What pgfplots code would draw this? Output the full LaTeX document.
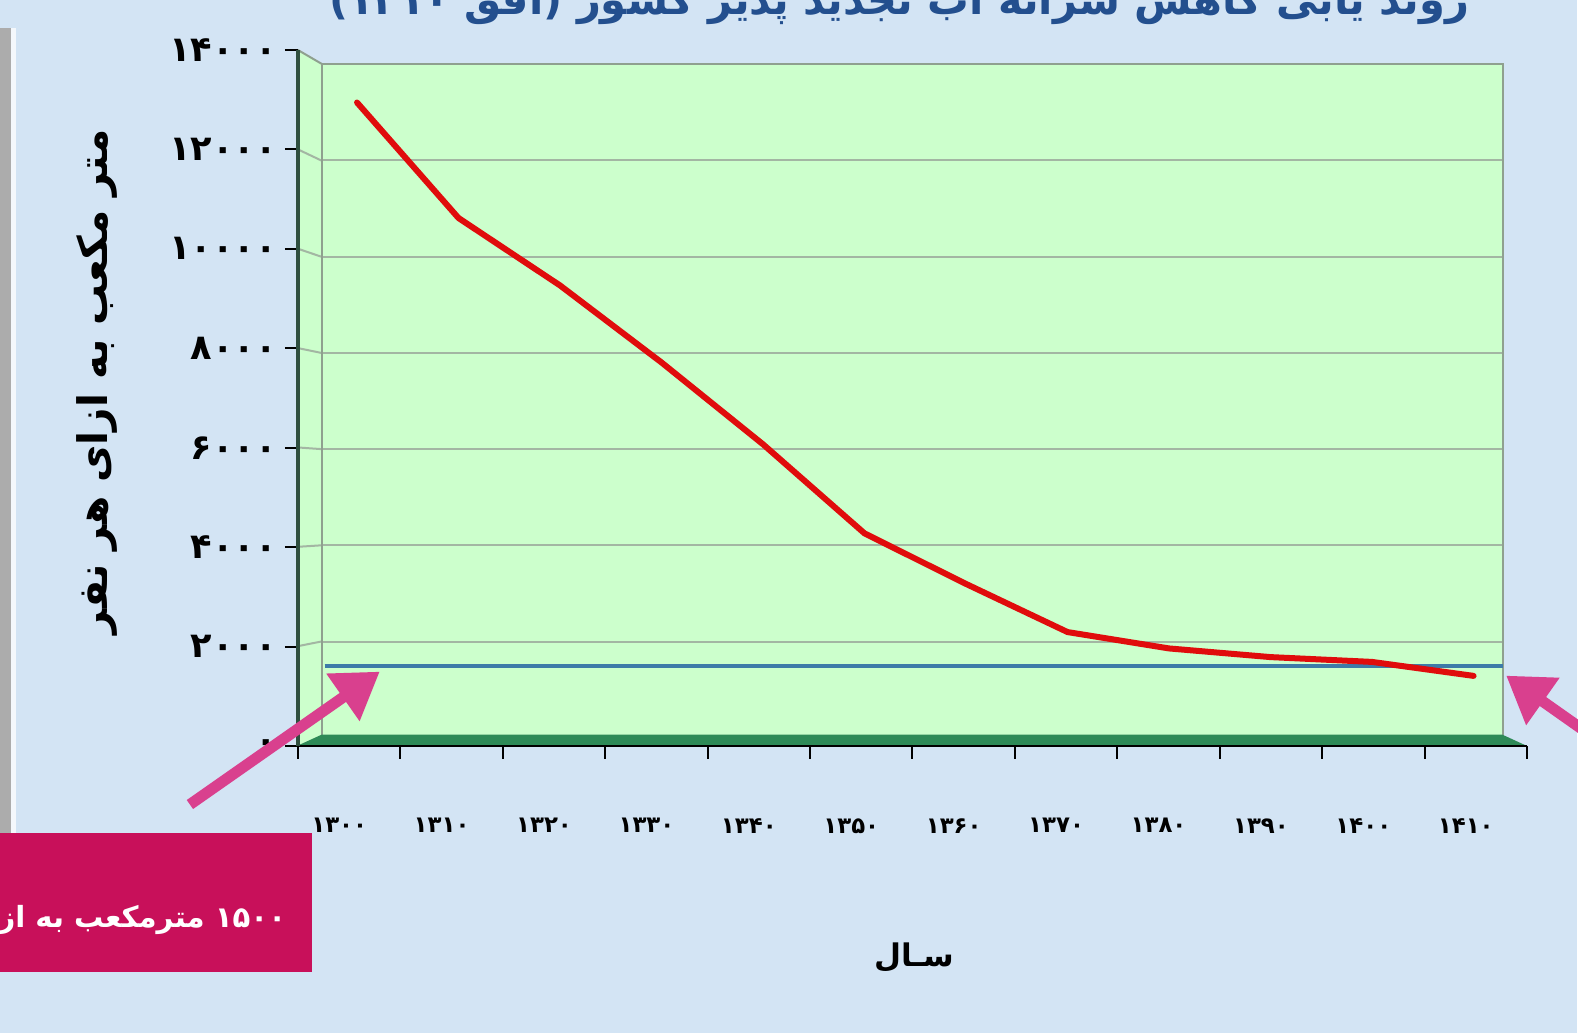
\documentclass[border=0pt]{standalone}
\usepackage{graphicx}
\usepackage{pgfplots}
\pgfplotsset{compat=1.18}
\usepackage{fontspec}
\usetikzlibrary{arrows.meta}
\TeXXeTstate=1
\newfontfamily\arabicfont[Script=Arabic]{DejaVu Sans}
\definecolor{bgblue}{HTML}{D3E4F4}
\definecolor{wallgreen}{HTML}{CCFFCC}
\definecolor{gridgray}{HTML}{A3B6A3}
\definecolor{bordergray}{HTML}{8FA08F}
\definecolor{floorgreen}{HTML}{2E8A57}
\definecolor{axisgreen}{HTML}{2F4F3F}
\definecolor{redline}{HTML}{E00C0C}
\definecolor{blueline}{HTML}{3D7BA8}
\definecolor{pinkarrow}{HTML}{D9408E}
\definecolor{pinkbox}{HTML}{C8105A}
\definecolor{titleblue}{HTML}{234F8E}
\begin{document}
\begin{tikzpicture}
\useasboundingbox (0,0) rectangle (15.78cm,10.34cm);
\begin{scope}[x=0.01cm,y=-0.01cm,yshift=10.34cm]
  \fill[bgblue] (0,0) rectangle (1578,1034);
  \fill[gray!65] (0,28) rectangle (11,833);
  \fill[white!75!bgblue] (11,28) rectangle (16,833);
  % side wall
  \fill[wallgreen] (298,50) -- (322,64) -- (322,738) -- (298,746) -- cycle;
  \foreach \v in {2000,4000,6000,8000,10000,12000}
    \draw[gridgray, line width=0.02cm] (298,{746-\v*0.04971}) -- (322,{738-\v*0.0481});
  \draw[bordergray, line width=0.02cm] (298,50) -- (322,64);
\end{scope}

% back wall with data
\begin{axis}[at={(3.22cm,2.96cm)}, anchor=south west, scale only axis,
  width=11.81cm, height=6.74cm,
  xmin=1296.55, xmax=1412.9, ymin=0, ymax=14000,
  scaled y ticks=false, scaled x ticks=false,
  axis background/.style={fill=wallgreen},
  axis line style={draw=bordergray, line width=0.02cm},
  xtick=\empty, ytick={2000,4000,...,12000}, yticklabels={},
  ymajorgrids, major grid style={gridgray, line width=0.02cm},
  major tick length=0pt, clip=false]
  \addplot[blueline, line width=0.035cm, no marks] coordinates {(1296.8,1500) (1412.9,1500)};
  \addplot[redline, line width=0.06cm, no marks, line join=round, line cap=round] coordinates {
    (1300,13200) (1310,10800) (1320,9400) (1330,7800) (1340,6100) (1350,4250)
    (1360,3200) (1370,2200) (1380,1860) (1390,1680) (1400,1580) (1410,1290)};
\end{axis}

\begin{scope}[x=0.01cm,y=-0.01cm,yshift=10.34cm]
  \fill[floorgreen] (298,746) -- (1527,746) -- (1503,735) -- (322,735) -- cycle;
\end{scope}

% front axis
\begin{axis}[at={(2.98cm,2.88cm)}, anchor=south west, scale only axis,
  width=12.29cm, height=6.96cm,
  xmin=1295, xmax=1415, ymin=0, ymax=14000,
  scaled y ticks=false, scaled x ticks=false,
  axis lines*=left,
  x axis line style={black, line width=0.02cm},
  y axis line style={axisgreen, line width=0.035cm},
  tick align=outside, major tick length=0.13cm,
  tick style={black, line width=0.02cm},
  ytick={0,2000,4000,6000,8000,10000,12000,14000},
  yticklabels={۰,۲۰۰۰,۴۰۰۰,۶۰۰۰,۸۰۰۰,۱۰۰۰۰,۱۲۰۰۰,۱۴۰۰۰},
  yticklabel style={font=\arabicfont\bfseries\fontsize{10}{11}\selectfont, anchor=east, xshift=0.04cm},
  xtick={1295,1305,...,1415}, xticklabels={},
  extra x ticks={1300,1310,...,1410},
  extra x tick labels={۱۳۰۰,۱۳۱۰,۱۳۲۰,۱۳۳۰,۱۳۴۰,۱۳۵۰,۱۳۶۰,۱۳۷۰,۱۳۸۰,۱۳۹۰,۱۴۰۰,۱۴۱۰},
  extra x tick style={major tick length=0pt, tick style={draw=none},
    xticklabel style={font=\arabicfont\bfseries\fontsize{6.5}{7}\selectfont, anchor=north, yshift=-0.6cm, xshift=-0.1cm}},
  clip=false]
  \addplot[draw=none, forget plot] coordinates {(1295,0) (1415,14000)};
\end{axis}

\begin{scope}[x=0.01cm,y=-0.01cm,yshift=10.34cm]
  % arrows
  \draw[pinkarrow, line width=0.11cm, -{Triangle[length=0.45cm,width=0.55cm]}] (190,805) -- (380,672);
  \draw[pinkarrow, line width=0.11cm, -{Triangle[length=0.45cm,width=0.55cm]}] (1612,750) -- (1507,676);
  % pink box
  \fill[pinkbox] (0,833) rectangle (312,973);
  \begin{scope}
    \clip (0,833) rectangle (312,973);
    \node[anchor=base east, text=white, inner sep=0pt,
      font=\arabicfont\bfseries\fontsize{8.3}{10}\selectfont] at (287,928)
      {\beginR ۱۵۰۰ مترمکعب به ازای هر نفر\endR};
  \end{scope}
  % title (cut at the top)
  \node[anchor=base, text=titleblue, inner sep=0pt] at (900,15)
    {\resizebox{11.4cm}{!}{\arabicfont\bfseries\beginR روند یابی کاهش سرانه آب تجدید پذیر کشور (افق ۱۴۱۰)\endR}};
  % y title
  \node[rotate=90, inner sep=0pt] at (97,382)
    {\resizebox{5.05cm}{!}{\arabicfont\bfseries\beginR متر مکعب به ازای هر نفر\endR}};
  % x title
  \node[inner sep=0pt] at (915,958)
    {\resizebox{0.8cm}{!}{\arabicfont\bfseries\beginR سـال\endR}};
\end{scope}
\end{tikzpicture}
\end{document}
